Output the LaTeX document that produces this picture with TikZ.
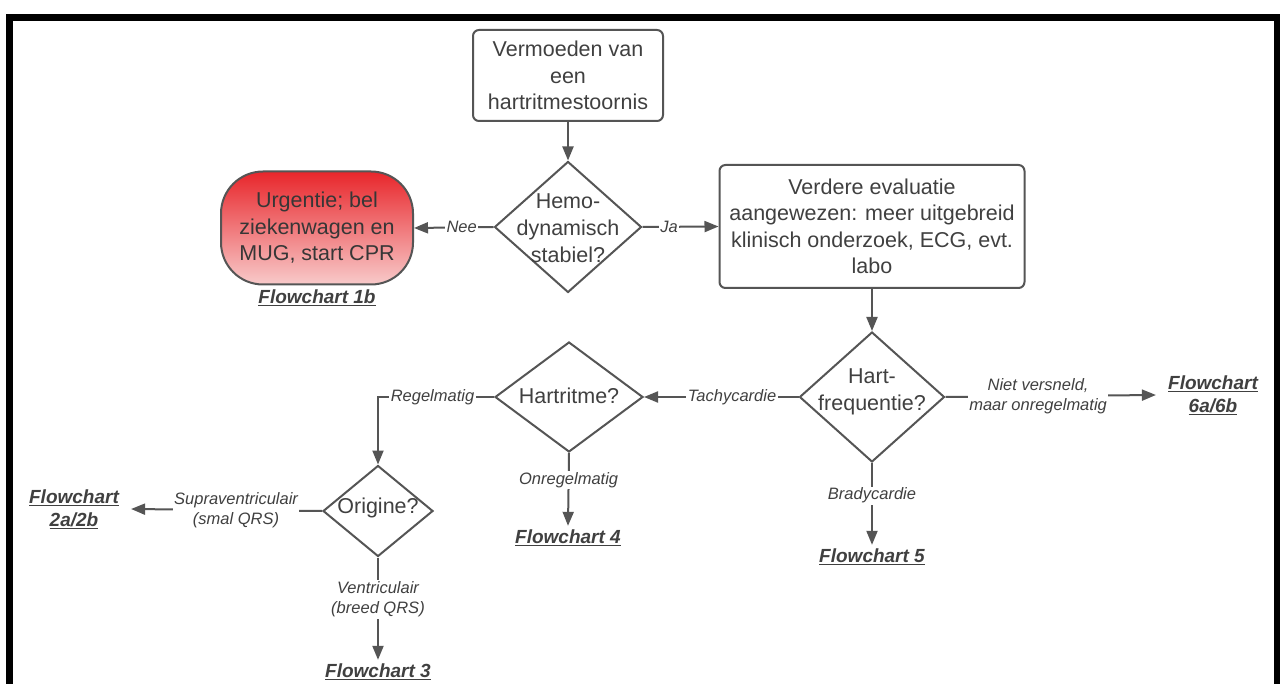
\documentclass[tikz,border=0pt]{standalone}
\usepackage{fontspec}
\setmainfont{Liberation Sans}
\usetikzlibrary{shapes.geometric,arrows.meta}
\definecolor{linec}{HTML}{555555}
\definecolor{txtc}{HTML}{404040}
\definecolor{urgtop}{HTML}{E8262B}
\definecolor{urgbot}{HTML}{F8CACA}

\begin{document}
\begin{tikzpicture}[x=1pt,y=-1pt,
  box/.style={draw=linec, line width=2pt, rounded corners=6pt, align=center,
    text=txtc, font=\fontsize{21.5}{26.5}\selectfont, inner sep=0pt},
  dia/.style={draw=linec, line width=2pt, diamond, inner sep=0pt},
  dtxt/.style={align=center, text=txtc, font=\fontsize{21.5}{27}\selectfont, inner sep=0pt},
  lbl/.style={fill=white, inner sep=1.5pt, align=center, text=txtc,
    font=\fontsize{16.5}{20}\selectfont\itshape},
  fc/.style={align=center, text=txtc, font=\fontsize{19}{23}\selectfont\bfseries\itshape,
    inner ysep=4pt, inner xsep=12pt},
  arr/.style={draw=linec, line width=2pt, -{Triangle[length=14pt,width=11pt]}},
  ln/.style={draw=linec, line width=2pt},
]
\useasboundingbox (0,0) rectangle (1280,684);
\clip (0,0) rectangle (1280,684);
\fill[white] (0,0) rectangle (1280,684);

% outer frame (runs past the lower edge)
\draw[line width=7pt] (9,18) rectangle (1277,720);

% boxes
\node[box, minimum width=190pt, minimum height=91pt] (start) at (568,75.5)
  {Vermoeden van\\een\\hartritmestoornis};
\node[box, minimum width=305pt, minimum height=123pt] (eval) at (872,226.5)
  {Verdere evaluatie\\aangewezen: meer uitgebreid\\klinisch onderzoek, ECG, evt.\\labo};
\node[box, rounded corners=42pt, top color=urgtop, bottom color=urgbot,
  minimum width=192pt, minimum height=113pt, text=txtc!85!black] (urg) at (317,228)
  {Urgentie; bel\\ziekenwagen en\\MUG, start CPR};

% decisions
\node[dia, minimum width=147pt, minimum height=131pt] (hemo) at (568,227) {};
\node[dtxt] (hemot) at (568,228) {Hemo-\\dynamisch\\stabiel?};
\node[dia, minimum width=145pt, minimum height=130pt] (hf) at (872,397) {};
\node[dtxt] (hft) at (872,392) {Hart-\\frequentie?};
\node[dia, minimum width=148pt, minimum height=110pt] (hr) at (569,397) {};
\node[dtxt] (hrt) at (569,396) {Hartritme?};
\node[dia, minimum width=110pt, minimum height=91pt] (org) at (378,511) {};
\node[dtxt] (orgt) at (378,508) {Origine?};

% references to other flowcharts
\node[fc] (fc1) at (317,298) {\underline{Flowchart 1b}};
\node[fc] (fc2) at (74,509) {\underline{Flowchart}\\\underline{2a/2b}};
\node[fc] (fc3) at (378,672) {\underline{Flowchart 3}};
\node[fc] (fc4) at (568,538) {\underline{Flowchart 4}};
\node[fc] (fc5) at (872,557) {\underline{Flowchart 5}};
\node[fc] (fc6) at (1213,395) {\underline{Flowchart}\\\underline{6a/6b}};

\coordinate (bend) at (378,397);

% connectors
\draw[arr] (start.south) -- (hemo.north);
\draw[arr] (hemo.west) -- (urg.east) node[lbl, pos=0.4] {Nee};
\draw[arr] (hemo.east) -- (eval.west) node[lbl, pos=0.35] {Ja};
\draw[arr] (eval.south) -- (hf.north);
\draw[arr] (hf.west) -- (hr.east) node[lbl, pos=0.43] {Tachycardie};
\draw[arr] (hr.west) -- node[lbl, pos=0.53] {Regelmatig} (bend) -- (org.north);
\draw[arr] (org.west) -- (fc2.east) node[lbl, pos=0.45] {Supraventriculair\\(smal QRS)};
\draw[arr] (org.south) -- (fc3.north) node[lbl, pos=0.41] {Ventriculair\\(breed QRS)};
\draw[arr] (hr.south) -- (fc4.north) node[lbl, pos=0.37] {Onregelmatig};
\draw[arr] (hf.south) -- (fc5.north) node[lbl, pos=0.4] {Bradycardie};
\draw[arr] (hf.east) -- (fc6.west) node[lbl, pos=0.44] {Niet versneld,\\maar onregelmatig};
\end{tikzpicture}
\end{document}
